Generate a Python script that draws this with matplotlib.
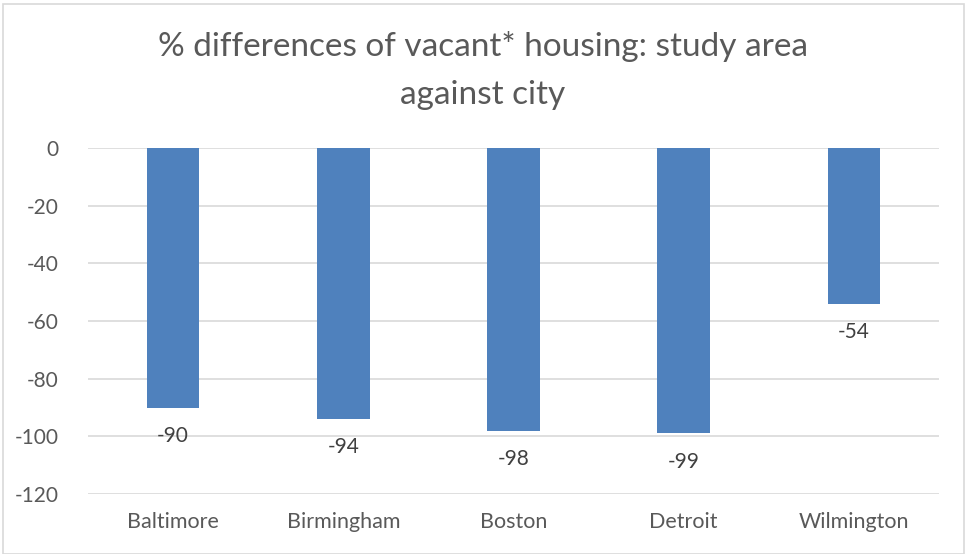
import matplotlib
matplotlib.use("Agg")
import matplotlib.pyplot as plt
from matplotlib.patches import Rectangle

categories = ["Baltimore", "Birmingham", "Boston", "Detroit", "Wilmington"]
values = [-90, -94, -98, -99, -54]
yticks = [0, -20, -40, -60, -80, -100, -120]

plt.rcParams['font.family'] = ['Lato', 'DejaVu Sans']

fig = plt.figure(figsize=(9.65, 5.54), dpi=100)
ax = fig.add_axes([88/965, 1 - 494/554, (939-88)/965, (494-148)/554])

x = list(range(len(categories)))
bars = ax.bar(x, values, width=0.31, color="#4F81BD", zorder=3)
for xi, v in zip(x, values):
    ax.annotate(f"{v}", (xi, v), xytext=(0, -13), textcoords="offset points",
                ha="center", va="top", fontsize=15, color="#404040")

ax.set_xlim(-0.5, len(categories) - 0.5)
ax.set_ylim(-120, 0)
ax.set_yticks(yticks)
ax.set_yticklabels([str(t) for t in yticks], fontsize=15, color="#595959")
ax.set_xticks(x)
ax.set_xticklabels(categories, fontsize=15.5, color="#595959")
ax.tick_params(axis='both', length=0)
ax.tick_params(axis='y', pad=21)
ax.tick_params(axis='x', pad=13)
ax.grid(axis='y', color="#D9D9D9", linewidth=1.2, zorder=0)
for s in ax.spines.values():
    s.set_visible(False)

fig.text(0.5, 1 - 47/554, "% differences of vacant* housing: study area", ha="center", va="center",
         fontsize=24, color="#595959")
fig.text(0.5, 1 - 95/554, "against city", ha="center", va="center",
         fontsize=24, color="#595959")

fig.patches.append(Rectangle((3/965, 0), 1 - 4/965, 1 - 4/554, transform=fig.transFigure,
                             fill=False, edgecolor="#D9D9D9", linewidth=1.2))

fig.savefig("out.png", dpi=100)
